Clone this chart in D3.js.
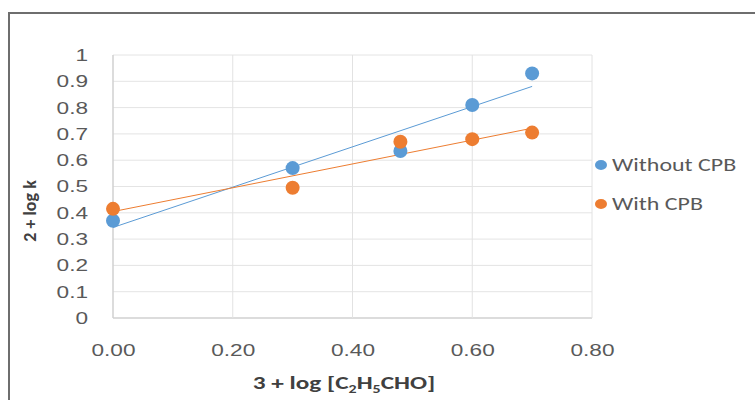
<!DOCTYPE html>
<html>
<head>
<meta charset="utf-8">
<script src="https://cdn.jsdelivr.net/npm/d3@7"></script>
<style>
  body { margin: 0; background: #fff; }
  svg { display: block; font-family: Carlito, "Open Sans", "Liberation Sans", sans-serif; }
</style>
</head>
<body>
<svg id="chart"></svg>
<script>
// x values (3 + log [C2H5CHO])
const xValues = [0.00, 0.30, 0.48, 0.60, 0.70];
// 2 + log k
const withoutCPB = [0.37, 0.57, 0.635, 0.81, 0.93];
const withCPB = [0.415, 0.495, 0.67, 0.68, 0.705];
const seriesNames = ["Without CPB", "With CPB"];
const seriesColors = ["#5b9bd5", "#ed7d31"];
const xTicks = [0, 0.2, 0.4, 0.6, 0.8];
const yTicks = [0, 0.1, 0.2, 0.3, 0.4, 0.5, 0.6, 0.7, 0.8, 0.9, 1];

const width = 755, height = 400;
const margin = { top: 55, right: 163, bottom: 82, left: 113 };
const innerW = width - margin.left - margin.right;
const innerH = height - margin.top - margin.bottom;

// the source picture is widened a bit, so text gets stretched sideways
const stretchK = 1.33;
function stretch(sel, k) {
  sel.each(function () {
    const len = this.getComputedTextLength();
    d3.select(this)
      .attr("textLength", len * k)
      .attr("lengthAdjust", "spacingAndGlyphs");
  });
}

const svg = d3.select("#chart").attr("width", width).attr("height", height);

// outer chart frame
svg.append("rect")
  .attr("x", 9).attr("y", 13)
  .attr("width", 760).attr("height", 400)
  .attr("fill", "none")
  .attr("stroke", "#6e6e6e")
  .attr("stroke-width", 2);

const g = svg.append("g").attr("transform", `translate(${margin.left},${margin.top})`);

const x = d3.scaleLinear().domain([0, 0.8]).range([0, innerW]);
const y = d3.scaleLinear().domain([0, 1]).range([innerH, 0]);

// gridlines
g.append("g")
  .selectAll("line")
  .data(yTicks)
  .join("line")
  .attr("x1", 0).attr("x2", innerW)
  .attr("y1", d => y(d)).attr("y2", d => y(d))
  .attr("stroke", d => d === 0 ? "#d0d0d0" : "#e4e4e4")
  .attr("stroke-width", d => d === 0 ? 1.5 : 1);

g.append("g")
  .selectAll("line")
  .data(xTicks)
  .join("line")
  .attr("x1", d => x(d)).attr("x2", d => x(d))
  .attr("y1", 0).attr("y2", innerH)
  .attr("stroke", d => d === 0 ? "#d0d0d0" : "#e2e2e2")
  .attr("stroke-width", d => d === 0 ? 1.5 : 1);

// axes (labels only)
const yAxis = g.append("g")
  .call(d3.axisLeft(y).tickValues(yTicks).tickSize(0).tickPadding(25)
    .tickFormat(d => d === 0 || d === 1 ? String(d) : d.toFixed(1)));
yAxis.select(".domain").remove();
yAxis.selectAll("text")
  .attr("fill", "#595959")
  .style("font-size", "17px")
  .call(stretch, stretchK);

const xAxis = g.append("g")
  .attr("transform", `translate(0,${innerH})`)
  .call(d3.axisBottom(x).tickValues(xTicks).tickSize(0).tickPadding(26)
    .tickFormat(d3.format(".2f")));
xAxis.select(".domain").remove();
xAxis.selectAll("text")
  .attr("fill", "#595959")
  .style("font-size", "17px")
  .call(stretch, stretchK);

// linear trendlines from each series
function fit(xs, ys) {
  const mx = d3.mean(xs), my = d3.mean(ys);
  const sxy = d3.sum(xs, (v, i) => (v - mx) * (ys[i] - my));
  const sxx = d3.sum(xs, v => (v - mx) * (v - mx));
  const b = sxy / sxx;
  return { a: my - b * mx, b: b };
}

const series = [withoutCPB, withCPB];
series.forEach((ys, i) => {
  const f = fit(xValues, ys);
  const x0 = d3.min(xValues), x1 = d3.max(xValues);
  g.append("line")
    .attr("x1", x(x0)).attr("y1", y(f.a + f.b * x0))
    .attr("x2", x(x1)).attr("y2", y(f.a + f.b * x1))
    .attr("stroke", seriesColors[i])
    .attr("stroke-width", 1);
});

series.forEach((ys, i) => {
  g.append("g")
    .selectAll("circle")
    .data(xValues.map((v, j) => [v, ys[j]]))
    .join("circle")
    .attr("cx", d => x(d[0]))
    .attr("cy", d => y(d[1]))
    .attr("r", 7)
    .attr("fill", seriesColors[i]);
});

// legend
const legend = svg.append("g").attr("transform", "translate(601,165)");
seriesNames.forEach((name, i) => {
  const row = legend.append("g").attr("transform", `translate(0,${i * 39})`);
  row.append("ellipse").attr("rx", 6).attr("ry", 5).attr("fill", seriesColors[i]);
  row.append("text")
    .attr("x", 11).attr("dy", "0.35em")
    .attr("fill", "#595959")
    .style("font-size", "18px")
    .text(name)
    .call(stretch, stretchK);
});

// axis titles
const xTitle = svg.append("text")
  .attr("transform", `translate(344,389) scale(${stretchK},1)`)
  .attr("text-anchor", "middle")
  .attr("fill", "#404040")
  .style("font-size", "19px")
  .style("font-weight", "bold");
xTitle.append("tspan").text("3 + log [C");
xTitle.append("tspan").attr("dy", 4).style("font-size", "12px").text("2");
xTitle.append("tspan").attr("dy", -4).text("H");
xTitle.append("tspan").attr("dy", 4).style("font-size", "12px").text("5");
xTitle.append("tspan").attr("dy", -4).text("CHO]");

svg.append("text")
  .attr("transform", "translate(36,211) rotate(-90)")
  .attr("text-anchor", "middle")
  .attr("fill", "#404040")
  .style("font-size", "18px")
  .style("font-weight", "bold")
  .text("2 + log k");
</script>
</body>
</html>
